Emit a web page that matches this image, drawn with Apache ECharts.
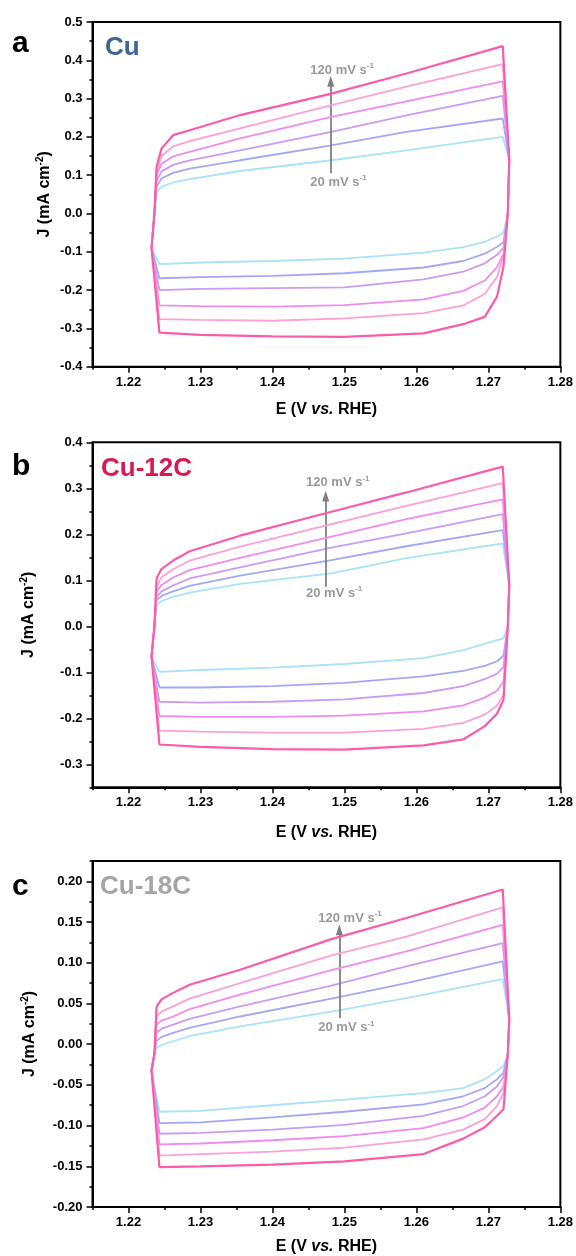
<!DOCTYPE html>
<html><head><meta charset="utf-8">
<script src="https://cdn.jsdelivr.net/npm/echarts@6/dist/echarts.min.js"></script>
<style>html,body{margin:0;padding:0;background:#fff}#c{width:576px;height:1256px}</style>
</head><body><div id="c"></div>
<script>
const FONT = 'Arial, "Liberation Sans", Helvetica, sans-serif';
const scanRates = ['20 mV/s','40 mV/s','60 mV/s','80 mV/s','100 mV/s','120 mV/s'];
const curveColors = ['#a9e2fa','#a4a8f4','#c99cf3','#ee8cee','#fda0d6','#fb5ba9'];

// shared potentials (V vs RHE) of the read points
const xUpper = [1.2239, 1.2246, 1.2262, 1.2285, 1.2355, 1.2482, 1.2586, 1.2720];
const xRight = [1.2729, 1.2727];
const xLower = [1.2721, 1.2712, 1.2695, 1.2665, 1.2610, 1.2500, 1.2400, 1.2300, 1.2243];
const xLeft  = [1.2232, 1.2236];

// ---- panel a : Cu ----
const aUp20  = [0.055, 0.070, 0.081, 0.090, 0.111, 0.139, 0.165, 0.200];
const aUp40  = [0.070, 0.092, 0.106, 0.117, 0.139, 0.178, 0.213, 0.248];
const aUp60  = [0.085, 0.110, 0.127, 0.139, 0.165, 0.213, 0.256, 0.307];
const aUp80  = [0.100, 0.130, 0.149, 0.161, 0.196, 0.252, 0.293, 0.345];
const aUp100 = [0.110, 0.150, 0.175, 0.189, 0.222, 0.283, 0.331, 0.390];
const aUp120 = [0.122, 0.170, 0.2045, 0.2175, 0.257, 0.313, 0.3655, 0.437];
const aLo20  = [-0.050, -0.060, -0.074, -0.088, -0.102, -0.118, -0.124, -0.128, -0.132];
const aLo40  = [-0.075, -0.087, -0.105, -0.124, -0.141, -0.156, -0.163, -0.166, -0.169];
const aLo60  = [-0.090, -0.108, -0.130, -0.152, -0.172, -0.193, -0.195, -0.197, -0.200];
const aLo80  = [-0.105, -0.140, -0.175, -0.202, -0.224, -0.239, -0.243, -0.242, -0.240];
const aLo100 = [-0.110, -0.165, -0.210, -0.240, -0.260, -0.274, -0.280, -0.278, -0.276];
const aLo120 = [-0.139, -0.217, -0.270, -0.289, -0.313, -0.322, -0.321, -0.317, -0.311];
const aRightY = [0.14, 0.0];
const aLeftY  = [-0.09, 0.0];

// ---- panel b : Cu-12C ----
const bUp20  = [0.046, 0.055, 0.064, 0.073, 0.092, 0.115, 0.148, 0.180];
const bUp40  = [0.057, 0.066, 0.076, 0.088, 0.110, 0.144, 0.174, 0.209];
const bUp60  = [0.064, 0.076, 0.089, 0.104, 0.128, 0.171, 0.202, 0.244];
const bUp80  = [0.075, 0.090, 0.106, 0.122, 0.149, 0.195, 0.233, 0.276];
const bUp100 = [0.086, 0.107, 0.124, 0.143, 0.173, 0.222, 0.262, 0.311];
const bUp120 = [0.104, 0.125, 0.143, 0.163, 0.197, 0.249, 0.291, 0.347];
const bLo20  = [-0.026, -0.030, -0.038, -0.052, -0.069, -0.082, -0.090, -0.095, -0.099];
const bLo40  = [-0.064, -0.076, -0.086, -0.097, -0.109, -0.123, -0.130, -0.133, -0.133];
const bLo60  = [-0.088, -0.103, -0.115, -0.130, -0.145, -0.159, -0.164, -0.166, -0.164];
const bLo80  = [-0.120, -0.140, -0.155, -0.172, -0.185, -0.194, -0.197, -0.197, -0.195];
const bLo100 = [-0.150, -0.172, -0.192, -0.210, -0.223, -0.231, -0.231, -0.229, -0.227];
const bLo120 = [-0.160, -0.190, -0.217, -0.246, -0.259, -0.268, -0.267, -0.262, -0.257];
const bRightY = [0.09, 0.0];
const bLeftY  = [-0.066, 0.0];

// ---- panel c : Cu-18C ----
const cUp20  = [-0.0045, -0.001, 0.0036, 0.010, 0.022, 0.040, 0.0567, 0.080];
const cUp40  = [0.004, 0.009, 0.014, 0.020, 0.034, 0.056, 0.075, 0.1016];
const cUp60  = [0.014, 0.019, 0.024, 0.031, 0.0465, 0.072, 0.0955, 0.124];
const cUp80  = [0.024, 0.029, 0.034, 0.043, 0.061, 0.091, 0.114, 0.1466];
const cUp100 = [0.034, 0.040, 0.0465, 0.056, 0.075, 0.109, 0.132, 0.168];
const cUp120 = [0.046, 0.055, 0.063, 0.073, 0.0914, 0.129, 0.155, 0.190];
const cLo20  = [-0.027, -0.033, -0.043, -0.054, -0.060, -0.068, -0.075, -0.082, -0.083];
const cLo40  = [-0.035, -0.043, -0.054, -0.064, -0.074, -0.083, -0.090, -0.096, -0.097];
const cLo60  = [-0.040, -0.052, -0.064, -0.076, -0.088, -0.099, -0.105, -0.109, -0.110];
const cLo80  = [-0.052, -0.064, -0.078, -0.090, -0.103, -0.113, -0.118, -0.122, -0.123];
const cLo100 = [-0.060, -0.076, -0.092, -0.105, -0.117, -0.127, -0.132, -0.135, -0.137];
const cLo120 = [-0.080, -0.088, -0.102, -0.116, -0.135, -0.144, -0.148, -0.150, -0.151];
const cRightY = [0.03, -0.012];
const cLeftY  = [-0.032, -0.012];

// axis ticks
const xMajor = [1.22, 1.23, 1.24, 1.25, 1.26, 1.27, 1.28];
const xMinor = [1.215, 1.225, 1.235, 1.245, 1.255, 1.265, 1.275];
const aYMajor = [-0.4, -0.3, -0.2, -0.1, 0.0, 0.1, 0.2, 0.3, 0.4, 0.5];
const aYMinor = [-0.35, -0.25, -0.15, -0.05, 0.05, 0.15, 0.25, 0.35, 0.45];
const bYMajor = [-0.3, -0.2, -0.1, 0.0, 0.1, 0.2, 0.3, 0.4];
const bYMinor = [-0.35, -0.25, -0.15, -0.05, 0.05, 0.15, 0.25, 0.35];
const cYMajor = [-0.20, -0.15, -0.10, -0.05, 0.00, 0.05, 0.10, 0.15, 0.20];
const cYMinor = [-0.175, -0.125, -0.075, -0.025, 0.025, 0.075, 0.125, 0.175, 0.225];

// annotation (arrow + labels) in data coordinates
const aArrow = {x: 1.2481, y0: 0.105, y1: 0.345, lx: 1.2452, ly120: 0.374, ly20: 0.082};
const bArrow = {x: 1.2474, y0: 0.086, y1: 0.283, lx: 1.2446, ly120: 0.312, ly20: 0.072};
const cArrow = {x: 1.2493, y0: 0.032, y1: 0.1405, lx: 1.2463, ly120: 0.155, ly20: 0.020};

const panels = [
  {up:[aUp20,aUp40,aUp60,aUp80,aUp100,aUp120], lo:[aLo20,aLo40,aLo60,aLo80,aLo100,aLo120], rY:aRightY, lY:aLeftY,
   yMin:-0.4, yMax:0.5, yMajor:aYMajor, yMinor:aYMinor, dec:1, arrow:aArrow,
   grid:{left:92.5, top:22, width:469, height:344.7}, xGap:35, yGap:39},
  {up:[bUp20,bUp40,bUp60,bUp80,bUp100,bUp120], lo:[bLo20,bLo40,bLo60,bLo80,bLo100,bLo120], rY:bRightY, lY:bLeftY,
   yMin:-0.35, yMax:0.4, yMajor:bYMajor, yMinor:bYMinor, dec:1, arrow:bArrow,
   grid:{left:92.5, top:442.3, width:469, height:345}, xGap:37, yGap:55},
  {up:[cUp20,cUp40,cUp60,cUp80,cUp100,cUp120], lo:[cLo20,cLo40,cLo60,cLo80,cLo100,cLo120], rY:cRightY, lY:cLeftY,
   yMin:-0.2, yMax:0.225, yMajor:cYMajor, yMinor:cYMinor, dec:2, arrow:cArrow,
   grid:{left:92.5, top:861, width:469, height:346.7}, xGap:32, yGap:54}
];

function loop(up, lo, rY, lY) {
  const pts = [];
  xUpper.forEach((x, i) => pts.push([x, up[i]]));
  xRight.forEach((x, i) => pts.push([x, rY[i]]));
  xLower.forEach((x, i) => pts.push([x, lo[i]]));
  xLeft.forEach((x, i) => pts.push([x, lY[i]]));
  pts.push([xUpper[0], up[0]]);
  return pts;
}

const grid = [], xAxis = [], yAxis = [], series = [];
const tickLabel = {color:'#000', fontFamily:FONT, fontWeight:'bold', fontSize:13};
panels.forEach((p, g) => {
  grid.push(Object.assign({show:true, borderColor:'#000', borderWidth:2, backgroundColor:'#fff'}, p.grid));
  xAxis.push({type:'value', gridIndex:g, min:1.215, max:1.28, position:'bottom',
    axisLine:{show:true, onZero:false, lineStyle:{color:'#000', width:2}},
    axisTick:{show:true, customValues:xMinor, length:3, lineStyle:{color:'#000', width:1.5}},
    axisLabel:{show:false}, splitLine:{show:false},
    name:'{b|E (V }{i|vs.}{b| RHE)}', nameLocation:'middle', nameGap:p.xGap,
    nameTextStyle:{rich:{b:{fontFamily:FONT, fontWeight:'bold', fontSize:16, color:'#000'},
                         i:{fontFamily:FONT, fontWeight:'bold', fontStyle:'italic', fontSize:16, color:'#000'}}}
  });
  xAxis.push({type:'value', gridIndex:g, min:1.215, max:1.28, position:'bottom',
    axisLine:{show:false, onZero:false},
    axisTick:{show:true, customValues:xMajor, length:6, lineStyle:{color:'#000', width:1.5}},
    axisLabel:Object.assign({show:true, customValues:xMajor, margin:9, formatter:v => v.toFixed(2)}, tickLabel),
    splitLine:{show:false}
  });
  yAxis.push({type:'value', gridIndex:g, min:p.yMin, max:p.yMax, position:'left',
    axisLine:{show:true, onZero:false, lineStyle:{color:'#000', width:2}},
    axisTick:{show:true, customValues:p.yMinor, length:3, lineStyle:{color:'#000', width:1.5}},
    axisLabel:{show:false}, splitLine:{show:false},
    name:'{b|J (mA cm}{s|-2}{b|)}', nameLocation:'middle', nameGap:p.yGap,
    nameTextStyle:{rich:{b:{fontFamily:FONT, fontWeight:'bold', fontSize:16, color:'#000', lineHeight:18},
                         s:{fontFamily:FONT, fontWeight:'bold', fontSize:10, color:'#000', verticalAlign:'top', lineHeight:18}}}
  });
  const dec = p.dec;
  yAxis.push({type:'value', gridIndex:g, min:p.yMin, max:p.yMax, position:'left',
    axisLine:{show:false, onZero:false},
    axisTick:{show:true, customValues:p.yMajor, length:6, lineStyle:{color:'#000', width:1.5}},
    axisLabel:Object.assign({show:true, customValues:p.yMajor, margin:10, formatter:v => v.toFixed(dec)}, tickLabel),
    splitLine:{show:false}
  });
  p.up.forEach((up, k) => {
    series.push({type:'line', name:scanRates[k], xAxisIndex:2*g, yAxisIndex:2*g,
      data:loop(up, p.lo[k], p.rY, p.lY), showSymbol:false, symbol:'none', smooth:false,
      lineStyle:{color:curveColors[k], width:k === 5 ? 2.2 : 1.8}, z:2 + k, silent:true});
  });
  const a = p.arrow;
  const rich = {t:{fontFamily:FONT, fontWeight:'bold', fontSize:13, color:'#7f7f7f', lineHeight:16},
                s:{fontFamily:FONT, fontWeight:'bold', fontSize:8, color:'#7f7f7f', verticalAlign:'top', lineHeight:16}};
  series.push({type:'scatter', xAxisIndex:2*g, yAxisIndex:2*g, symbolSize:1, silent:true, z:10,
    itemStyle:{color:'rgba(0,0,0,0)'},
    label:{show:true, position:'right', distance:0, rich:rich},
    data:[{value:[a.lx, a.ly120], label:{formatter:'{t|120 mV s}{s|-1}'}},
          {value:[a.lx, a.ly20], label:{formatter:'{t|20 mV s}{s|-1}'}}],
    markLine:{silent:true, animation:false, label:{show:false}, emphasis:{disabled:true},
      lineStyle:{color:'#7f7f7f', width:1.8, type:'solid'},
      data:[[{coord:[a.x, a.y0], symbol:'none'}, {coord:[a.x, a.y1], symbol:'triangle', symbolSize:[7, 11]}]]}
  });
});

const graphic = [
  {type:'text', left:12, top:29, style:{text:'a', fontFamily:FONT, fontWeight:'bold', fontSize:30, fill:'#000'}},
  {type:'text', left:105, top:35, style:{text:'Cu', fontFamily:FONT, fontWeight:'bold', fontSize:26, fill:'#3e6593'}},
  {type:'text', left:12, top:452, style:{text:'b', fontFamily:FONT, fontWeight:'bold', fontSize:30, fill:'#000'}},
  {type:'text', left:101, top:455.7, style:{text:'Cu-12C', fontFamily:FONT, fontWeight:'bold', fontSize:26, fill:'#d81a50'}},
  {type:'text', left:12, top:871.7, style:{text:'c', fontFamily:FONT, fontWeight:'bold', fontSize:30, fill:'#000'}},
  {type:'text', left:100, top:874, style:{text:'Cu-18C', fontFamily:FONT, fontWeight:'bold', fontSize:26, fill:'#a5a5a5'}}
];

const chart = echarts.init(document.getElementById('c'), null, {renderer:'canvas'});
chart.setOption({animation:false, backgroundColor:'#fff', grid, xAxis, yAxis, series, graphic});
</script>
</body></html>
